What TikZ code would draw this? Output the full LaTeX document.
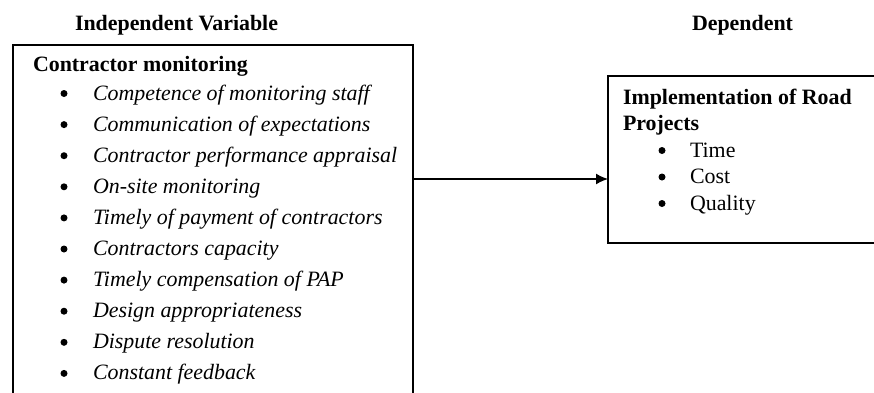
\documentclass[tikz,border=0pt]{standalone}
\usepackage{fontspec}
\setmainfont{Liberation Serif}
\usetikzlibrary{arrows.meta}
\begin{document}
\begin{tikzpicture}[x=1pt,y=-1pt,
  every node/.style={inner sep=0pt,outer sep=0pt,font=\fontsize{21.9}{26}\selectfont},
  box/.style={draw=black,line width=1.5pt,fill=none},
  txt/.style={anchor=base west},
  head/.style={anchor=base west,font=\fontsize{21.9}{26}\selectfont\bfseries},
  bul/.style={circle,fill=black,minimum size=7pt},
  itm/.style={anchor=base west,font=\fontsize{21.9}{26}\selectfont\itshape},
  conn/.style={line width=1.5pt,-{Latex[length=12pt,width=11pt]}}]
\useasboundingbox (0,0) rectangle (874,392);
\clip (0,0) rectangle (874,392);
% titles
\node[head] (t1) at (75,30) {Independent Variable};
\node[head] (t2) at (692,30) {Dependent};
% boxes
\draw[box] (13,45) rectangle (413,420);
\draw[box] (608,76) rectangle (900,243);
% left content
\node[head] (h1) at (33,71) {Contractor monitoring};
\foreach \i/\t in {0/Competence of monitoring staff,
                   1/Communication of expectations,
                   2/Contractor performance appraisal,
                   3/On-site monitoring,
                   4/Timely of payment of contractors,
                   5/Contractors capacity,
                   6/Timely compensation of PAP,
                   7/Design appropriateness,
                   8/Dispute resolution,
                   9/Constant feedback}{
  \node[bul] (b\i) at (64,100+31.1*\i-6.5) {};
  \node[itm] (i\i) at (93,100+31.1*\i) {\t};
}
% right content
\node[head] (h2) at (623,104) {Implementation of Road};
\node[head] (h3) at (623,130.5) {Projects};
\foreach \j/\t in {0/Time,1/Cost,2/Quality}{
  \node[bul] (rb\j) at (662,157+26.5*\j-6.5) {};
  \node[txt] (r\j) at (690,157+26.5*\j) {\t};
}
% connector
\coordinate (a) at (413,179);
\coordinate (bb) at (608,179);
\draw[conn] (a) -- (bb);
\end{tikzpicture}
\end{document}
